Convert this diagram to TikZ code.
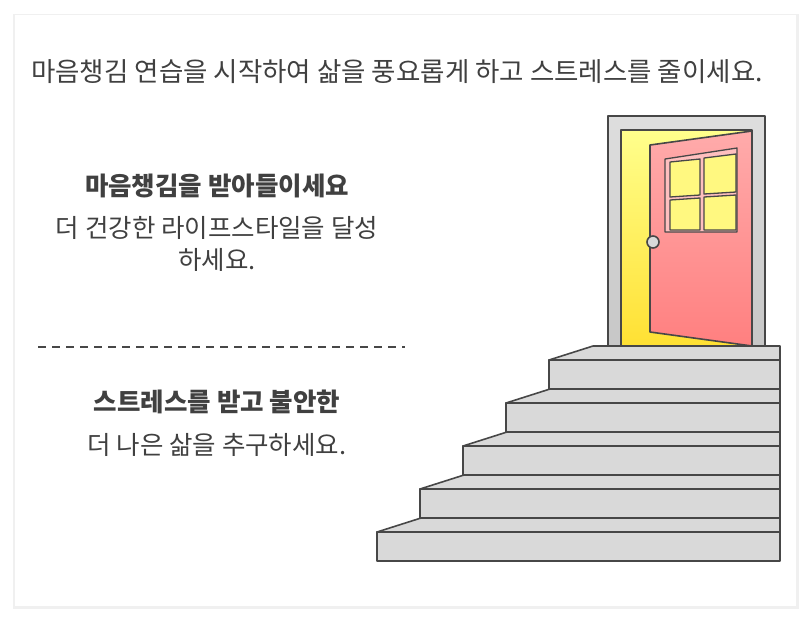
\documentclass[tikz,border=0pt]{standalone}
\usepackage{fontspec}
\setmainfont{Noto Sans CJK KR}
\begin{document}
\begin{tikzpicture}[x=1pt,y=-1pt,
  ln/.style={draw=black!72,line width=1.6pt,line join=round},
  stair/.style={ln,fill=black!15},
  txt/.style={text=black!75,font=\fontsize{25.5}{32}\selectfont,align=center,inner sep=0pt},
  hd/.style={text=black!75,font=\fontsize{25.5}{32}\selectfont\bfseries,inner sep=0pt}]
\useasboundingbox (0,0) rectangle (811,622);
\fill[black!6] (13,14) rectangle (799,609);
\fill[white] (15,15) rectangle (796,606);
\node[txt,font=\fontsize{26.5}{32}\selectfont] (title) at (397,72) {마음챙김 연습을 시작하여 삶을 풍요롭게 하고 스트레스를 줄이세요.};
\node[hd] (h1) at (217,186) {마음챙김을 받아들이세요};
\node[txt] (t1) at (217,244) {더 건강한 라이프스타일을 달성\\하세요.};
\coordinate (dl) at (38,347); \coordinate (dr) at (405,347);
\draw[black!72,line width=1.3pt,dash pattern=on 8pt off 6pt] (dl) -- (dr);
\node[hd] (h2) at (217,402) {스트레스를 받고 불안한};
\node[txt] (t2) at (217,445) {더 나은 삶을 추구하세요.};
% door
\draw[ln,top color=black!13,bottom color=black!22] (608,116) rectangle (765,346);
\draw[ln,top color=yellow!45,bottom color=yellow!70!orange!80] (621,130) rectangle (752,346);
\draw[ln,top color=red!33,bottom color=red!50] (650,145) -- (752,131) -- (752,346) -- (650,332) -- cycle;
\draw[ln,fill=red!25,line width=1.3pt] (665,159) -- (737,148) -- (737,232) -- (665,232) -- cycle;
\draw[ln,fill=yellow!50,line width=1.3pt] (670,162) -- (700,159) -- (700,195) -- (670,197) -- cycle;
\draw[ln,fill=yellow!50,line width=1.3pt] (704,158) -- (736,154) -- (736,192) -- (704,194) -- cycle;
\draw[ln,fill=yellow!50,line width=1.3pt] (670,200) -- (700,198) -- (700,230) -- (670,230) -- cycle;
\draw[ln,fill=yellow!50,line width=1.3pt] (704,197) -- (736,195) -- (736,230) -- (704,230) -- cycle;
\draw[ln,fill=black!15] (653,242) circle (6);
% stairs
\foreach \i in {0,...,4}{
  \pgfmathsetmacro{\ya}{346+43*\i}
  \pgfmathsetmacro{\xa}{593-43*\i}
  \draw[stair] (\xa,\ya) -- (780,\ya) -- (780,\ya+14) -- (\xa-44,\ya+14) -- cycle;
  \draw[stair] (\xa-44,\ya+14) rectangle (780,\ya+43);
}
\end{tikzpicture}
\end{document}
